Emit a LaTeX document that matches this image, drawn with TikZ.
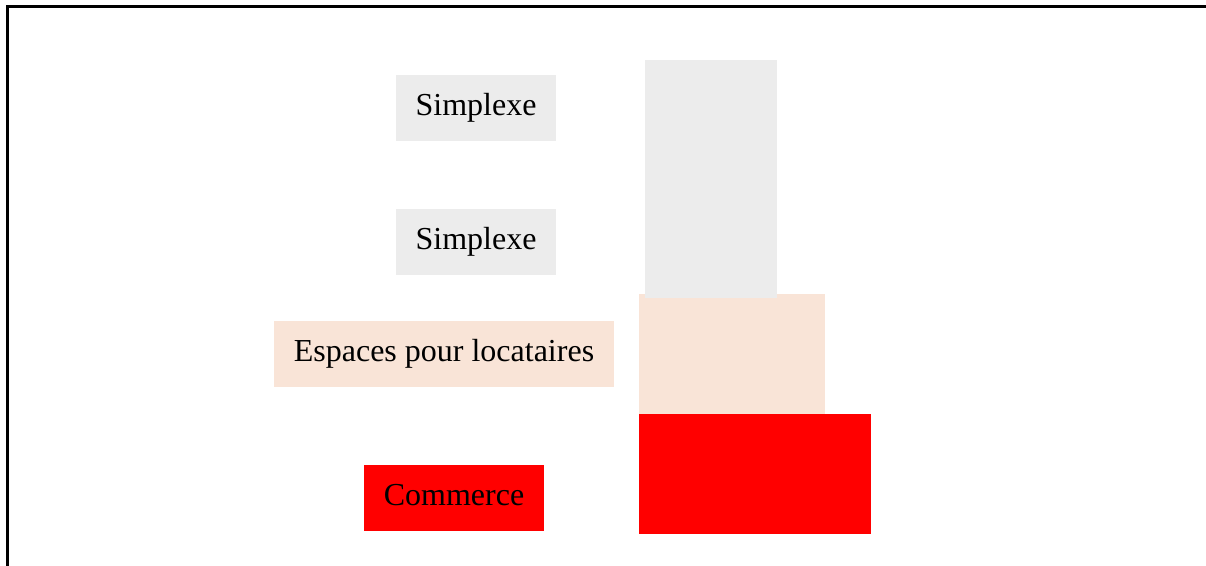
\documentclass[tikz,border=0pt]{standalone}
\usepackage{fontspec}
\setmainfont{Liberation Serif}
\usetikzlibrary{positioning}
\definecolor{simplexgray}{HTML}{ECECEC}
\definecolor{locpeach}{HTML}{F9E4D7}
\definecolor{comred}{HTML}{FF0000}

\begin{document}
\begin{tikzpicture}[
  x=1pt, y=-1pt,
  font=\fontsize{32}{38}\selectfont,
  lbl/.style={inner sep=0pt, minimum height=66pt, text=black},
  bar/.style={inner sep=0pt, outer sep=0pt, anchor=north west}
]
  \useasboundingbox (0,0) rectangle (1206,565);
  \clip (0,0) rectangle (1206,565);

  \draw[line width=3pt] (7.2,600) -- (7.2,6.2) -- (1230,6.2);

  \node[lbl, fill=simplexgray, minimum width=160pt] (simpA) at (476,108) {Simplexe};
  \node[lbl, fill=simplexgray, minimum width=160pt] (simpB) at (476,242) {Simplexe};
  \node[lbl, fill=locpeach, minimum width=340pt] (loc) at (444,354) {Espaces pour locataires};
  \node[lbl, fill=comred, minimum width=180pt, text depth=6.5pt] (com) at (454,498) {Commerce};

  \node[bar, fill=locpeach, minimum width=186pt, minimum height=120pt] (locbar) at (639,294) {};
  \node[bar, fill=simplexgray, minimum width=132pt, minimum height=238pt] (simpbar) at (645,60) {};
  \node[bar, fill=comred, minimum width=232pt, minimum height=120pt] (combar) at (639,414) {};
\end{tikzpicture}
\end{document}
